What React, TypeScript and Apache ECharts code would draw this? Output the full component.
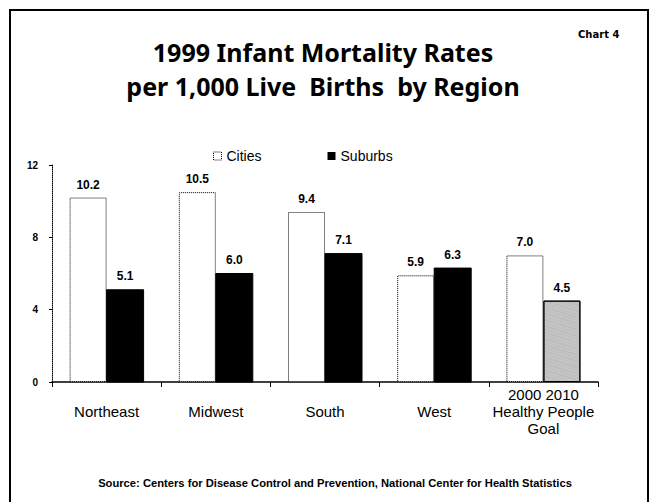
import React, { useEffect, useRef } from "react";
import * as echarts from "echarts";

const categories = ["Northeast", "Midwest", "South", "West", "2000 2010\nHealthy People\nGoal"];
const cities = [10.2, 10.5, 9.4, 5.9, 7.0];
const suburbs = [5.1, 6.0, 7.1, 6.3, 4.5];
const yTicks = [0, 4, 8, 12];

export default function App() {
  const ref = useRef<HTMLDivElement>(null);
  useEffect(() => {
    if (!ref.current) return;
    const chart = echarts.init(ref.current, null, { renderer: "svg" });
    const labelStyle = {
      show: true,
      position: "top",
      distance: 7,
      fontFamily: "Liberation Sans",
      fontWeight: "bold",
      fontSize: 12,
      color: "#000",
      formatter: (p: any) => p.value.toFixed(1),
    };
    chart.setOption({
      animation: false,
      backgroundColor: "#fff",
      title: [
        {
          text: "1999 Infant Mortality Rates\nper 1,000 Live  Births  by Region",
          left: 318,
          textAlign: "center",
          top: 30,
          textStyle: {
            fontFamily: "Noto Sans",
            fontWeight: "bold",
            fontSize: 25,
            lineHeight: 34,
            color: "#000",
          },
        },
        {
          text: "Chart 4",
          left: 573,
          top: 24,
          textStyle: { fontFamily: "DejaVu Sans", fontWeight: "bold", fontSize: 10, color: "#000" },
        },
        {
          text: "Source: Centers for Disease Control and Prevention, National Center for Health Statistics",
          left: 330,
          textAlign: "center",
          top: 472,
          textStyle: { fontFamily: "Liberation Sans", fontWeight: "bold", fontSize: 11.2, color: "#000" },
        },
      ],
      legend: {
        top: 144,
        left: 208,
        itemWidth: 8,
        itemHeight: 8,
        itemGap: 66,
        icon: "rect",
        textStyle: { fontFamily: "Liberation Sans", fontSize: 14, color: "#000" },
        data: [
          { name: "Cities", itemStyle: { color: "#fff", borderColor: "#000", borderWidth: 1, borderType: "dotted" } },
          { name: "Suburbs", itemStyle: { color: "#000" } },
        ],
      },
      grid: { left: 52, right: 52, top: 165, bottom: 120, containLabel: false },
      xAxis: {
        type: "category",
        data: categories,
        axisLine: { lineStyle: { color: "#000", width: 1.5 } },
        axisTick: { show: true, length: 5, lineStyle: { color: "#000" } },
        axisLabel: {
          fontFamily: "Liberation Sans",
          fontSize: 15,
          color: "#000",
          margin: 4,
          lineHeight: 17,
          interval: 0,
          formatter: (v: string) => (v.includes("\n") ? v : "\n" + v),
        },
      },
      yAxis: {
        type: "value",
        min: 0,
        max: 12,
        interval: 4,
        splitLine: { show: false },
        axisLine: { show: true, lineStyle: { color: "#000", width: 1, type: "dotted" } },
        axisTick: { show: true, length: 3, lineStyle: { color: "#000" } },
        axisLabel: {
          fontFamily: "Liberation Sans",
          fontWeight: "bold",
          fontSize: 10,
          color: "#000",
          margin: 14,
          formatter: (v: number) => (yTicks.includes(v) ? String(v) : ""),
        },
      },
      series: [
        {
          name: "Cities",
          type: "bar",
          data: cities,
          barWidth: 37,
          barGap: "0%",
          itemStyle: { color: "#fff", borderColor: "#000", borderWidth: 1, borderType: "dotted" },
          label: labelStyle,
        },
        {
          name: "Suburbs",
          type: "bar",
          data: suburbs.map((v, i) =>
            i === suburbs.length - 1
              ? {
                  value: v,
                  itemStyle: {
                    color: "#c4c4c4",
                    borderColor: "#000",
                    borderWidth: 1,
                    decal: {
                      symbol: "rect",
                      symbolSize: 0.5,
                      dashArrayX: [[1, 2], [2, 1]],
                      dashArrayY: [1, 2],
                      color: "rgba(80,80,80,0.55)",
                      rotation: 0.3,
                    },
                  },
                }
              : v
          ),
          barWidth: 37,
          itemStyle: { color: "#000", borderColor: "#000" },
          label: labelStyle,
        },
      ],
      graphic: [
        {
          type: "rect",
          shape: { x: 10, y: 10, width: 638, height: 500 },
          style: { fill: "none", stroke: "#000", lineWidth: 2 },
          silent: true,
        },
      ],
    });
    return () => chart.dispose();
  }, []);
  return (
    <div
      ref={ref}
      style={{ position: "fixed", left: 0, top: 0, width: 650, height: 502 }}
    />
  );
}
